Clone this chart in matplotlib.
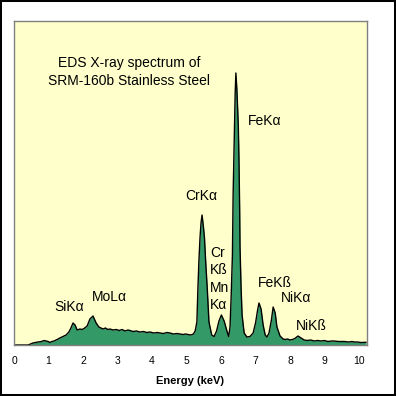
import matplotlib
matplotlib.use('Agg')
import matplotlib.pyplot as plt
from matplotlib.patches import Rectangle

plt.rcParams['font.family'] = ['Liberation Sans', 'DejaVu Sans']

# spectrum: energy (keV) and height (arbitrary counts)
energy = [0.00, 0.41, 0.55, 0.70, 0.80, 0.87, 0.93, 0.99, 1.04, 1.10, 1.16, 1.25, 1.33,
          1.42, 1.51, 1.59, 1.65, 1.71, 1.77, 1.83, 1.91, 1.97, 2.03, 2.12, 2.20, 2.29,
          2.38, 2.46, 2.52, 2.58, 2.65, 2.72, 2.78, 2.87, 2.96, 3.05, 3.13, 3.22, 3.30,
          3.36, 3.45, 3.55, 3.65, 3.75, 3.85, 3.94, 4.05, 4.15, 4.23, 4.33, 4.43, 4.52,
          4.62, 4.72, 4.81, 4.90, 4.97, 5.04, 5.12, 5.20, 5.25, 5.30, 5.33, 5.36, 5.39,
          5.42, 5.45, 5.49, 5.52, 5.56, 5.60, 5.65, 5.73, 5.80, 5.87, 5.94, 6.01, 6.09,
          6.17, 6.22, 6.26, 6.29, 6.33, 6.35, 6.38, 6.41, 6.43, 6.46, 6.50, 6.52, 6.54,
          6.55, 6.58, 6.61, 6.67, 6.75, 6.84, 6.93, 7.00, 7.06, 7.10, 7.16, 7.22, 7.28,
          7.33, 7.39, 7.46, 7.51, 7.57, 7.62, 7.71, 7.80, 7.86, 7.93, 8.00, 8.07, 8.14,
          8.23, 8.32, 8.41, 8.50, 8.60, 8.70, 8.80, 8.90, 8.99, 9.10, 9.20, 9.28, 9.40,
          9.50, 9.57, 9.70, 9.80, 9.86, 9.95, 10.05, 10.20]
counts = [0, 0, 2, 3, 3.5, 4.5, 4, 3.5, 2.5, 3.5, 4, 5.5, 7,
          8.5, 10, 13, 17, 22, 20, 15, 16, 15.5, 16.5, 19, 26, 29,
          22, 18, 17, 16, 17, 15.5, 16, 15, 15.5, 14.5, 15.5, 14, 15,
          14.5, 13.5, 14, 13, 13.5, 12.5, 13, 12, 12.5, 12, 11.5, 12.5, 12,
          11, 11.5, 11, 10.5, 11, 10.5, 10, 11, 14, 23, 57, 85, 107,
          122, 130, 118, 107, 80, 57, 23, 10, 8.5, 14, 24, 30, 24,
          14, 8.5, 18, 45, 90, 150, 200, 252, 272, 255, 220, 185, 135,
          98, 58, 30, 12, 8, 8.5, 12, 22, 35, 42, 36, 20, 10,
          8, 12, 25, 38, 32, 18, 9, 6, 5.5, 6, 5, 5.5, 6.5,
          9, 7, 5, 4.5, 5, 4, 4.5, 4, 4.5, 3.5, 4, 4, 3.5,
          3.5, 3.5, 3, 3.5, 3, 3, 2.5, 2.7]

title_lines = 'EDS X-ray spectrum of\nSRM-160b Stainless Steel'
peak_labels = ['SiKα', 'MoLα', 'CrKα', 'Cr\nKß\nMn\nKα', 'FeKα', 'FeKß', 'NiKα', 'NiKß']
label_x = [1.60, 2.75, 5.43, 5.68, 6.78, 7.56, 8.18, 8.62]
label_y = [38, 48, 149, 66, 224, 62, 47, 19]
label_ha = ['center', 'center', 'center', 'left', 'left', 'center', 'center', 'center']
ticks = [0, 1, 2, 3, 4, 5, 6, 7, 8, 9, 10]

fig = plt.figure(figsize=(3.96, 3.96), dpi=100)
fig.patch.set_facecolor('white')
fig.patches.append(Rectangle((0, 0), 1, 1, transform=fig.transFigure,
                             fill=False, edgecolor='black', linewidth=2.9))

ax = fig.add_axes([14/396, 51/396, 353/396, 324/396])
ax.set_facecolor('#FFFFCC')
ax.fill_between(energy, counts, 0, color='#339966', linewidth=0)
ax.plot(energy, counts, color='black', linewidth=1.0)
ax.set_xlim(0, 10.23)
ax.set_ylim(0, 324)

for s in ax.spines.values():
    s.set_color('#808080')
    s.set_linewidth(1.0)

ax.set_yticks([])
ax.set_xticks(ticks)
ax.set_xticklabels([str(t) for t in ticks])
ax.tick_params(axis='x', length=0, pad=8, labelsize=7.5)
ax.set_xlabel('Energy (keV)', fontsize=8, fontweight='bold', labelpad=7)

ax.text(3.33, 273, title_lines, ha='center', va='center', fontsize=10,
        linespacing=1.37)
for lab, x, y, ha in zip(peak_labels, label_x, label_y, label_ha):
    ax.text(x, y, lab, ha=ha, va='center', fontsize=10,
            linespacing=1.3 if '\n' in lab else 1.2)

fig.savefig('out.png', dpi=100)
